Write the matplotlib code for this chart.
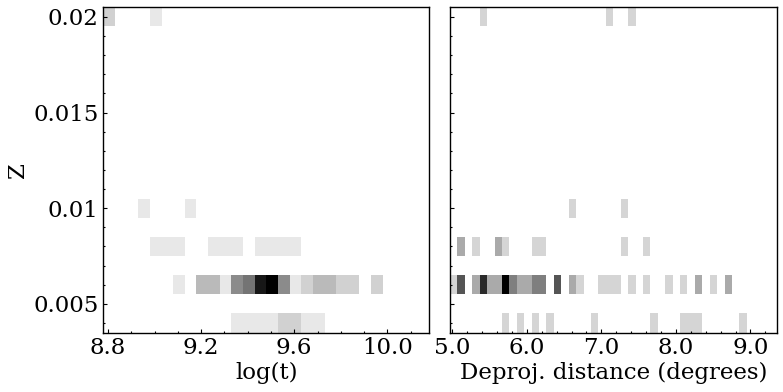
import numpy as np
import matplotlib
matplotlib.use("Agg")
import matplotlib.pyplot as plt
from matplotlib.ticker import MultipleLocator, FuncFormatter

plt.rcParams['font.family'] = ['DejaVu Serif']

# ---- data (counts per bin) ----
z_edges = np.round(np.arange(0.0035, 0.0206, 0.001), 4)       # 17 bins in Z
logt_edges = np.round(np.linspace(8.78, 10.18, 29), 4)          # 28 bins in log(t)
dist_edges = np.linspace(4.97, 9.35, 45)                        # 44 bins in distance

# rows present: Z value -> {bin index: count}
left_rows = {
    0.020: {0: 2, 4: 1},
    0.010: {3: 1, 7: 1},
    0.008: {4: 1, 5: 1, 6: 1, 9: 1, 10: 1, 11: 1, 13: 1, 14: 1, 15: 1, 16: 1},
    0.006: {6: 1, 8: 3, 9: 3, 10: 1, 11: 5, 12: 6, 13: 10, 14: 11, 15: 5,
            16: 1, 17: 2, 18: 3, 19: 3, 20: 2, 21: 2, 23: 2},
    0.004: {11: 1, 12: 1, 13: 1, 14: 1, 15: 2, 16: 2, 17: 1, 18: 1},
}
right_rows = {
    0.020: {4: 1, 21: 1, 24: 1},
    0.010: {16: 1, 23: 1},
    0.008: {1: 2, 3: 1, 6: 2, 7: 1, 11: 1, 12: 1, 23: 1, 26: 1},
    0.006: {0: 1, 1: 4, 3: 2, 4: 5, 5: 2, 6: 2, 7: 6, 8: 3, 9: 2, 10: 2,
            11: 3, 12: 3, 14: 4, 16: 2, 17: 1, 20: 1, 21: 1, 22: 1, 24: 1,
            26: 1, 29: 1, 31: 1, 33: 2, 35: 1, 37: 2},
    0.004: {7: 1, 9: 1, 11: 1, 13: 1, 19: 1, 27: 1, 31: 1, 32: 1, 33: 1, 39: 1},
}


def build_grid(rows, xedges, yedges):
    grid = np.zeros((len(yedges) - 1, len(xedges) - 1))
    for z, cells in rows.items():
        j = np.searchsorted(yedges, z) - 1
        for i, c in cells.items():
            grid[j, i] = c
    return grid


W, H = 783, 392
fig = plt.figure(figsize=(W / 100, H / 100), dpi=100)
ax1 = fig.add_axes([103.3 / W, 1 - 332.6 / H, 326 / W, 325.3 / H])
ax2 = fig.add_axes([450 / W, 1 - 332.6 / H, 326.5 / W, 325.3 / H], sharey=ax1)

for ax, rows, xe in [(ax1, left_rows, logt_edges), (ax2, right_rows, dist_edges)]:
    g = build_grid(rows, xe, z_edges)
    ax.pcolormesh(xe, z_edges, g, cmap='gray_r', vmin=0, vmax=g.max(),
                  shading='flat', edgecolors='none', antialiased=False)
    ax.set_xlim(xe[0], xe[-1])
    ax.tick_params(which='both', direction='in', top=False, right=False,
                   labelsize=16.5, width=0.8)
    ax.tick_params(which='major', length=3.0)
    ax.tick_params(which='minor', length=1.6)
    for s in ax.spines.values():
        s.set_linewidth(1.0)

ax1.set_ylim(0.0035, 0.0205)
ax1.yaxis.set_major_locator(MultipleLocator(0.005))
ax1.yaxis.set_minor_locator(MultipleLocator(0.001))
ax1.yaxis.set_major_formatter(FuncFormatter(lambda v, p: '%g' % round(v, 4)))

ax1.xaxis.set_major_locator(MultipleLocator(0.4))
ax1.xaxis.set_minor_locator(MultipleLocator(0.1))
ax1.xaxis.set_major_formatter(FuncFormatter(lambda v, p: '%.1f' % v))

ax2.xaxis.set_major_locator(MultipleLocator(1.0))
ax2.xaxis.set_minor_locator(MultipleLocator(0.2))
ax2.xaxis.set_major_formatter(FuncFormatter(lambda v, p: '%.1f' % v))
ax2.tick_params(labelleft=False)

ax1.set_xlabel('log(t)', fontsize=16.5, labelpad=1.5)
ax2.set_xlabel('Deproj. distance (degrees)', fontsize=16.5, labelpad=1.5)
ax1.set_ylabel('Z', fontsize=16.5)
ax1.yaxis.set_label_coords(-0.228, 0.5)

fig.savefig('out.png', dpi=100)
